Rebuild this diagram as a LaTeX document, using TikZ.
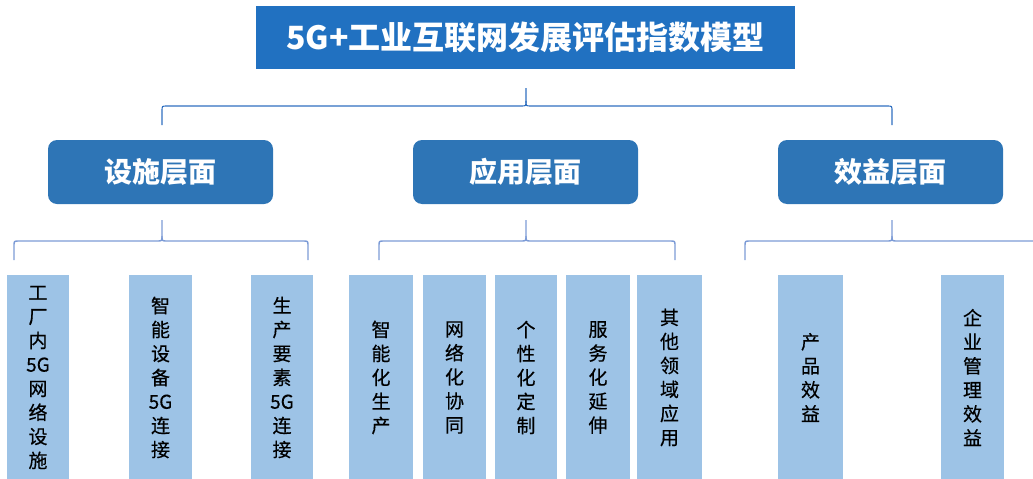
\documentclass[tikz,border=0pt]{standalone}
\usepackage{fontspec}
\newfontfamily\cjk{Noto Sans CJK SC}
\newfontfamily\cjkm{Noto Sans CJK SC}[FakeBold=0.4]
\definecolor{titleblue}{HTML}{2171C1}
\definecolor{layerblue}{HTML}{2E75B6}
\definecolor{itemblue}{HTML}{9DC3E6}
\definecolor{braceA}{HTML}{2F6FC0}
\definecolor{braceB}{HTML}{7C9BD6}
% #1 style, #2 left x, #3 centre x, #4 right x, #5 bar y, #6 end y, #7 top y
\newcommand\mybrace[7]{%
  \draw[#1] (#2,#6) -- (#2,{#5+5}) .. controls (#2,#5) .. ({#2+5},#5)
    -- ({#3-5},#5) .. controls (#3,#5) .. (#3,{#5-5}) -- (#3,#7);
  \draw[#1] (#4,#6) -- (#4,{#5+5}) .. controls (#4,#5) .. ({#4-5},#5)
    -- ({#3+5},#5) .. controls (#3,#5) .. (#3,{#5-5});
}
\begin{document}
\begin{tikzpicture}[x=1pt,y=-1pt,
  titlebox/.style={fill=titleblue, text=white, font=\cjk\bfseries\fontsize{32}{38}\selectfont,
    minimum width=539pt, minimum height=63pt, inner sep=0pt},
  layerbox/.style={fill=layerblue, rounded corners=9pt, text=white,
    font=\cjk\bfseries\fontsize{28}{34}\selectfont, minimum height=64pt, inner sep=0pt},
  itembox/.style={fill=itemblue, text=black, font=\cjkm\fontsize{19}{24}\selectfont,
    align=center, minimum height=205pt, inner sep=0pt},
  topbrace/.style={draw=braceA, line width=1.1pt},
  subbrace/.style={draw=braceB, line width=1.4pt}]
\useasboundingbox (0,0) rectangle (1033,479);
\begin{scope}
\clip (0,0) rectangle (1033,479);
\node[titlebox] (T) at (525.5,37.5) {5G+工业互联网发展评估指数模型};

\node[layerbox, minimum width=225pt] (L1) at (160.5,172) {设施层面};
\node[layerbox, minimum width=225pt] (L2) at (525.5,172) {应用层面};
\node[layerbox, minimum width=225pt] (L3) at (890.5,172) {效益层面};

\node[itembox, minimum width=62pt] (I1) at (38,377.5) {工\\厂\\内\\5G\\网\\络\\设\\施};
\node[itembox, minimum width=63pt] (I2) at (160.5,377.5) {智\\能\\设\\备\\5G\\连\\接};
\node[itembox, minimum width=62pt] (I3) at (282,377.5) {生\\产\\要\\素\\5G\\连\\接};
\node[itembox, minimum width=64pt] (I4) at (381,377.5) {智\\能\\化\\生\\产};
\node[itembox, minimum width=63pt] (I5) at (454.5,377.5) {网\\络\\化\\协\\同};
\node[itembox, minimum width=62pt] (I6) at (526,377.5) {个\\性\\化\\定\\制};
\node[itembox, minimum width=64pt] (I7) at (598,377.5) {服\\务\\化\\延\\伸};
\node[itembox, minimum width=65pt] (I8) at (669.5,377.5) {其\\他\\领\\域\\应\\用};
\node[itembox, minimum width=65pt] (I9) at (810.5,377.5) {产\\品\\效\\益};
\node[itembox, minimum width=63pt] (I10) at (972.5,377.5) {企\\业\\管\\理\\效\\益};

\mybrace{topbrace}{162}{526}{892}{106}{125}{88}
\mybrace{subbrace}{14}{162}{308}{241}{260}{220}
\mybrace{subbrace}{379}{526}{675}{241}{260}{220}
\mybrace{subbrace}{745}{892}{1040}{241}{260}{220}
\end{scope}
\end{tikzpicture}
\end{document}
